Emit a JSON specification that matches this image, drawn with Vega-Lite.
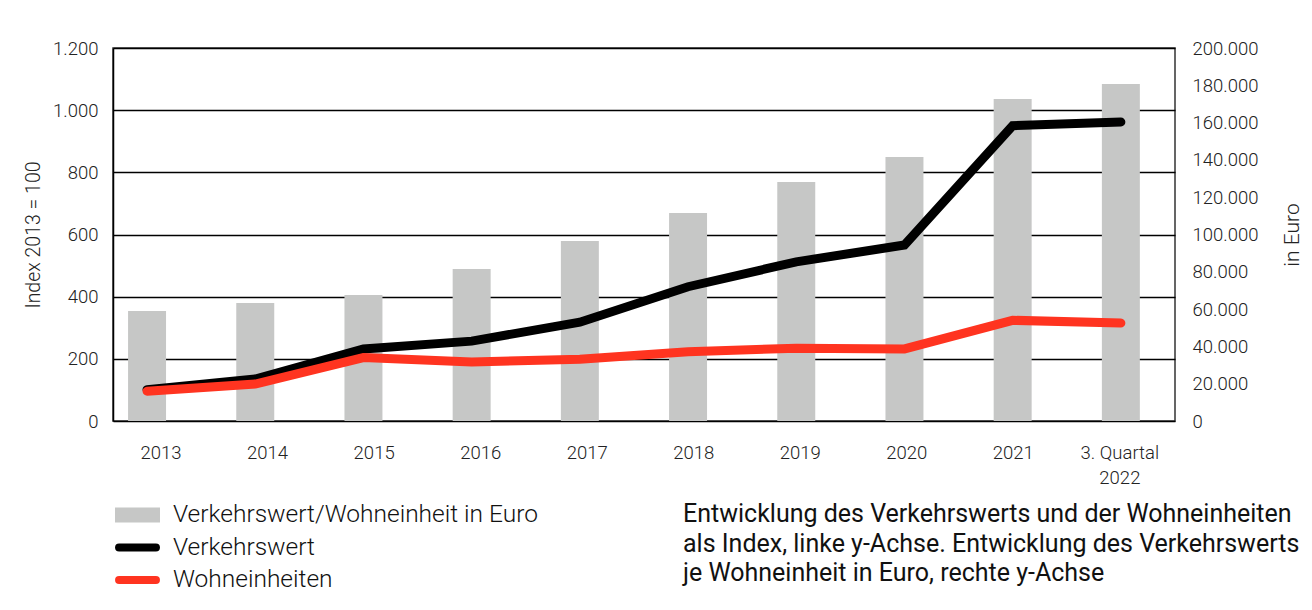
{
  "$schema": "https://vega.github.io/schema/vega-lite/v6.json",
  "width": 1062,
  "height": 373,
  "autosize": {"type": "none"},
  "padding": {"left": 113, "top": 48, "right": 137, "bottom": 189},
  "background": "white",
  "data": {
    "values": [
      {"Jahr": "2013", "Euro": 59000, "Verkehrswert": 101, "Wohneinheiten": 96},
      {"Jahr": "2014", "Euro": 63300, "Verkehrswert": 135, "Wohneinheiten": 119},
      {"Jahr": "2015", "Euro": 67600, "Verkehrswert": 232, "Wohneinheiten": 204},
      {"Jahr": "2016", "Euro": 81500, "Verkehrswert": 257, "Wohneinheiten": 190},
      {"Jahr": "2017", "Euro": 96500, "Verkehrswert": 318, "Wohneinheiten": 199},
      {"Jahr": "2018", "Euro": 111500, "Verkehrswert": 432, "Wohneinheiten": 223},
      {"Jahr": "2019", "Euro": 128200, "Verkehrswert": 512, "Wohneinheiten": 234},
      {"Jahr": "2020", "Euro": 141500, "Verkehrswert": 566, "Wohneinheiten": 232},
      {"Jahr": "2021", "Euro": 172700, "Verkehrswert": 950, "Wohneinheiten": 324},
      {"Jahr": "3. Quartal 2022", "Euro": 180700, "Verkehrswert": 962, "Wohneinheiten": 315}
    ]
  },
  "title": {
    "text": [
      "Entwicklung des Verkehrswerts und der Wohneinheiten",
      "als Index, linke y-Achse. Entwicklung des Verkehrswerts",
      "je Wohneinheit in Euro, rechte y-Achse"
    ],
    "orient": "bottom",
    "anchor": "start",
    "frame": "group",
    "dx": 570,
    "offset": -90,
    "fontSize": 25,
    "lineHeight": 29.5,
    "limit": 0,
    "font": "Roboto",
    "fontWeight": "normal",
    "color": "#111"
  },
  "encoding": {
    "x": {
      "field": "Jahr",
      "type": "ordinal",
      "sort": null,
      "scale": {"paddingInner": 0.649, "paddingOuter": 0.232, "align": 0.3},
      "axis": {
        "title": null,
        "domain": false,
        "ticks": false,
        "grid": false,
        "labelAngle": 0,
        "labelPadding": 22,
        "labelFontSize": 18.5,
        "labelLineHeight": 25,
        "labelOffset": {"expr": "14 - 15 * datum.index"},
        "labelExpr": "datum.value == '3. Quartal 2022' ? ['3. Quartal', '2022'] : datum.label"
      }
    }
  },
  "layer": [
    {
      "mark": {"type": "bar"},
      "encoding": {
        "y": {
          "field": "Euro",
          "type": "quantitative",
          "scale": {"domain": [0, 200000], "nice": false},
          "axis": {
            "orient": "right",
            "values": [0, 20000, 40000, 60000, 80000, 100000, 120000, 140000, 160000, 180000, 200000],
            "grid": false,
            "domain": false,
            "ticks": false,
            "labelPadding": 17,
            "labelFontSize": 18.5,
            "labelExpr": "replace(format(datum.value, ','), ',', '.')",
            "title": "in Euro",
            "titleFontSize": 21,
            "titleAngle": 270,
            "titlePadding": 45
          }
        },
        "color": {
          "datum": "Verkehrswert/Wohneinheit in Euro",
          "scale": {
            "domain": ["Verkehrswert/Wohneinheit in Euro", "Verkehrswert", "Wohneinheiten"],
            "range": ["#c6c7c6", "#000000", "#ff3420"]
          },
          "legend": {
            "orient": "none",
            "legendX": -2,
            "legendY": 456,
            "direction": "vertical",
            "title": null,
            "padding": 0,
            "labelFontSize": 24.5,
            "labelFont": "Roboto",
            "labelFontWeight": 300,
            "labelColor": "#111",
            "labelLimit": 600,
            "symbolSize": 2025,
            "clipHeight": 22,
            "rowPadding": 7.5,
            "labelOffset": 9,
            "encode": {
              "symbols": {
                "update": {
                  "shape": {"signal": "datum.value == 'Verkehrswert/Wohneinheit in Euro' ? 'M-0.822,-0.156H0.822V0.156H-0.822Z' : 'M-0.82,0H0.82'"},
                  "fill": {"signal": "datum.value == 'Verkehrswert/Wohneinheit in Euro' ? '#c6c7c6' : 'transparent'"},
                  "stroke": {"signal": "datum.value == 'Verkehrswert/Wohneinheit in Euro' ? '#c6c7c6' : (datum.value == 'Verkehrswert' ? '#000000' : '#ff3420')"},
                  "strokeWidth": {"value": 8},
                  "strokeCap": {"value": "round"},
                  "strokeJoin": {"value": "miter"},
                  "opacity": {"value": 1}
                }
              }
            }
          }
        }
      }
    },
    {
      "layer": [
        {
          "mark": {"type": "line", "strokeWidth": 9, "strokeCap": "round", "strokeJoin": "miter"},
          "encoding": {
            "y": {
              "field": "Verkehrswert",
              "type": "quantitative",
              "title": "Index 2013 = 100",
              "scale": {"domain": [0, 1200], "nice": false},
              "axis": {
                "orient": "left",
                "values": [0, 200, 400, 600, 800, 1000, 1200],
                "grid": true,
                "gridColor": "#000000",
                "gridWidth": 1.5,
                "domain": true,
                "domainColor": "#000000",
                "domainWidth": 1.5,
                "ticks": false,
                "labelPadding": 15,
                "labelFontSize": 18.5,
                "labelExpr": "replace(format(datum.value, ','), ',', '.')",
                "titlePadding": 9
              }
            },
            "color": {"datum": "Verkehrswert"}
          }
        },
        {
          "mark": {"type": "line", "strokeWidth": 9, "strokeCap": "round", "strokeJoin": "miter"},
          "encoding": {
            "y": {"field": "Wohneinheiten", "type": "quantitative", "title": "Index 2013 = 100"},
            "color": {"datum": "Wohneinheiten"}
          }
        }
      ]
    }
  ],
  "resolve": {"scale": {"y": "independent"}},
  "config": {
    "font": "Roboto",
    "view": {"stroke": "#333333", "strokeWidth": 1.5},
    "axis": {
      "labelFont": "Roboto",
      "labelFontWeight": 300,
      "labelColor": "#222222",
      "titleFont": "Roboto",
      "titleFontWeight": 300,
      "titleFontSize": 19.5,
      "titleColor": "#222222"
    }
  }
}
